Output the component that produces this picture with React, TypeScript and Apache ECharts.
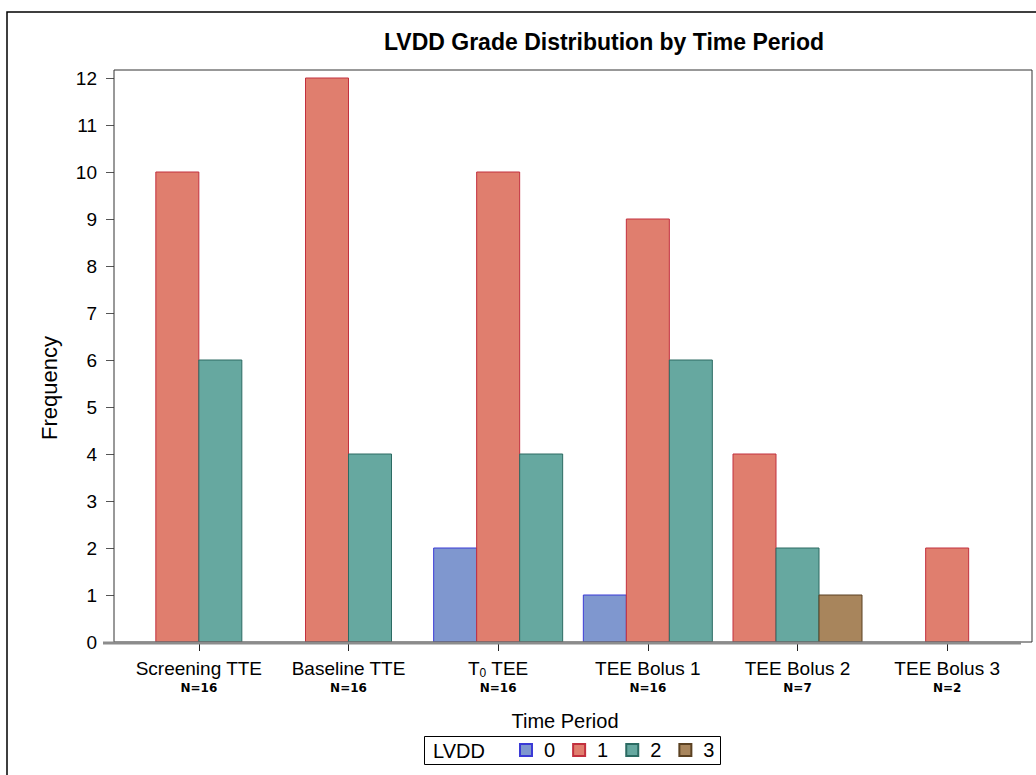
import React, { useEffect, useRef } from "react";
import * as echarts from "echarts";

const categories = ["Screening TTE", "Baseline TTE", "T0 TEE", "TEE Bolus 1", "TEE Bolus 2", "TEE Bolus 3"];
const nCounts = [16, 16, 16, 16, 7, 2];
const grades = ["0", "1", "2", "3"];
const grade0 = [0, 0, 2, 1, 0, 0];
const grade1 = [10, 12, 10, 9, 4, 2];
const grade2 = [6, 4, 4, 6, 2, 0];
const grade3 = [0, 0, 0, 0, 1, 0];
const gradeValues = [grade0, grade1, grade2, grade3];
const fills = ["#7f97cf", "#e07e6e", "#66a8a0", "#a8855c"];
const borders = ["#3b3bd6", "#c2303e", "#2c6b63", "#5b4122"];

const FONT = "'Liberation Sans', Arial, sans-serif";
const BAR_W = 43;

// SAS clusters only the non-empty groups in each category, centred on the tick.
function slotOffset(gradeIdx: number, catIdx: number) {
  const present = gradeValues.map((arr, g) => (arr[catIdx] > 0 ? g : -1)).filter((g) => g >= 0);
  const pos = present.indexOf(gradeIdx);
  return pos - (present.length - 1) / 2;
}

export default function App() {
  const ref = useRef<HTMLDivElement>(null);
  useEffect(() => {
    if (!ref.current) return;
    const chart = echarts.init(ref.current, null, { renderer: "svg" });
    const series = grades.map((g, i) => ({
      name: g,
      type: "custom",
      dimensions: ["cat", "value", "offset"],
      encode: { x: 0, y: 1 },
      data: gradeValues[i]
        .map((v, c) => (v > 0 ? [c, v, slotOffset(i, c)] : null))
        .filter((d) => d !== null),
      itemStyle: { color: fills[i], borderColor: borders[i], borderWidth: 1 },
      renderItem: (params: any, api: any) => {
        const c = api.value(0);
        const v = api.value(1);
        const off = api.value(2);
        const top = api.coord([c, v]);
        const base = api.coord([c, 0]);
        return {
          type: "rect",
          shape: { x: top[0] + off * BAR_W - BAR_W / 2, y: top[1], width: BAR_W, height: base[1] - top[1] },
          style: { fill: fills[i], stroke: borders[i], lineWidth: 1 },
        };
      },
    }));
    chart.setOption({
      animation: false,
      grid: { left: 124, right: 14, top: 78, bottom: 133, containLabel: false },
      xAxis: {
        type: "category",
        data: categories,
        axisLine: { show: false },
        axisTick: { show: true, alignWithLabel: true, length: 9, lineStyle: { color: "#222", width: 1 } },
        axisLabel: {
          margin: 16,
          interval: 0,
          formatter: (value: string, idx: number) => {
            const name = value === "T0 TEE" ? "{name|T}{sub|0}{name| TEE}" : `{name|${value}}`;
            return `${name}\n{n|N=${nCounts[idx]}}`;
          },
          rich: {
            name: { fontSize: 19, fontFamily: FONT, color: "#000", lineHeight: 20 },
            sub: { fontSize: 12, fontFamily: FONT, color: "#000", lineHeight: 12, padding: [10, 0, 0, 0] },
            n: { fontSize: 12, fontFamily: "'DejaVu Sans', sans-serif", fontWeight: "bold", color: "#000", lineHeight: 20 },
          },
        },
        splitLine: { show: false },
      },
      yAxis: {
        type: "value",
        min: 0,
        max: 12,
        interval: 1,
        offset: 10,
        axisLine: { show: false },
        axisTick: { show: true, length: 8, lineStyle: { color: "#555", width: 1 } },
        axisLabel: { margin: 17, fontSize: 19, fontFamily: FONT, color: "#000" },
        splitLine: { show: false },
      },
      legend: {
        data: grades,
        left: 519,
        top: 740,
        padding: 0,
        itemWidth: 12,
        itemHeight: 12,
        itemGap: 17,
        icon: "rect",
        selectedMode: false,
        textStyle: { fontSize: 20, fontFamily: FONT, color: "#000", padding: [0, 0, 0, 7] },
      },
      series,
      graphic: [
        { type: "polyline", z: 100, shape: { points: [[7, 775], [7, 12], [1036, 12]] }, style: { stroke: "#000", lineWidth: 1.5, fill: null } },
        { type: "rect", z: 100, shape: { x: 114, y: 70, width: 918, height: 572 }, style: { stroke: "#333", lineWidth: 1, fill: null } },
        { type: "line", z: 101, shape: { x1: 103, y1: 643, x2: 1021, y2: 643 }, style: { stroke: "#8c8c8c", lineWidth: 3 } },
        { type: "text", z: 100, x: 604, y: 42, style: { text: "LVDD Grade Distribution by Time Period", fontSize: 23, fontWeight: "bold", fontFamily: FONT, fill: "#000", textAlign: "center", textVerticalAlign: "middle" } },
        { type: "text", z: 100, x: 49, y: 388, rotation: Math.PI / 2, style: { text: "Frequency", fontSize: 22, fontFamily: FONT, fill: "#000", textAlign: "center", textVerticalAlign: "middle" } },
        { type: "text", z: 100, x: 565, y: 721, style: { text: "Time Period", fontSize: 20, fontFamily: FONT, fill: "#000", textAlign: "center", textVerticalAlign: "middle" } },
        { type: "rect", z: 100, shape: { x: 424.5, y: 736.5, width: 296, height: 28 }, style: { stroke: "#000", lineWidth: 1, fill: null } },
        { type: "text", z: 100, x: 433, y: 751, style: { text: "LVDD", fontSize: 20, fontFamily: FONT, fill: "#000", textAlign: "left", textVerticalAlign: "middle" } },
      ],
    });
    return () => chart.dispose();
  }, []);
  return <div ref={ref} style={{ position: "absolute", left: 0, top: 0, width: 1036, height: 775, background: "#fff" }} />;
}
